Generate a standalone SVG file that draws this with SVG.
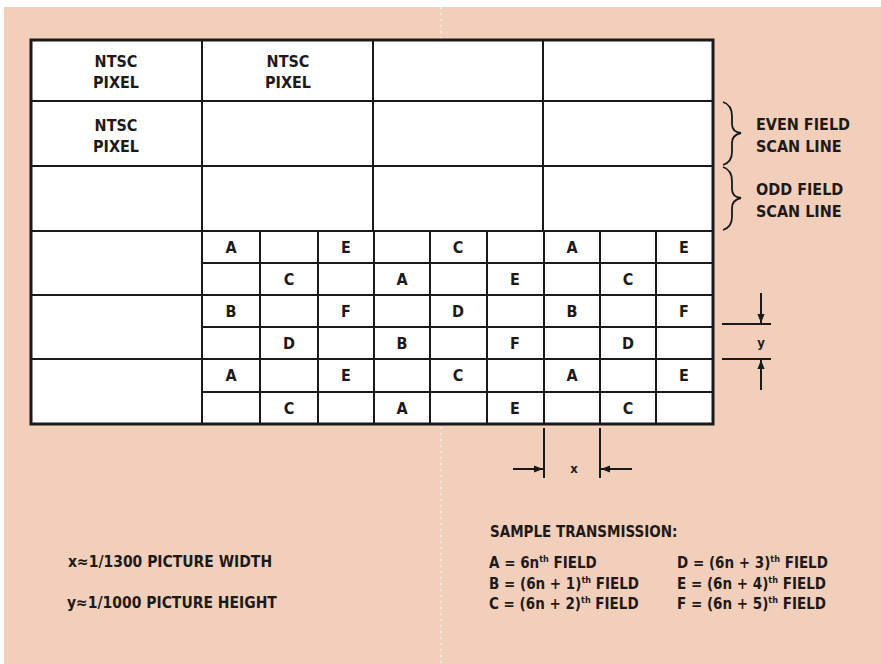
<svg xmlns="http://www.w3.org/2000/svg" width="881" height="664" viewBox="0 0 881 664">
<defs>
<style>
.t{font-family:"DejaVu Sans Condensed","Liberation Sans Narrow","Liberation Sans",sans-serif;font-stretch:condensed;font-weight:bold;fill:#1e1a1a;font-size:15px}
.c{text-anchor:middle}
.g{font-size:16px}
.ln{stroke:#1a1a1a;stroke-width:2;fill:none}
.br{stroke:#1a1a1a;stroke-width:1.8;fill:none}
.sup{font-size:9px}
</style>
<marker id="ah" viewBox="0 0 10 10" refX="10" refY="5" markerWidth="11" markerHeight="9" markerUnits="userSpaceOnUse" orient="auto"><path d="M0,1 L10,5 L0,9 Z" fill="#1a1a1a"/></marker>
</defs>
<rect width="881" height="664" fill="#ffffff"/>
<rect x="4" y="7" width="877" height="657" fill="#f2cfbb"/>
<line x1="441" y1="7" x2="441" y2="664" stroke="#fbeee6" stroke-width="1.5" stroke-dasharray="2 4"/>

<g id="grid">
<rect x="31" y="40" width="682" height="384" fill="#ffffff" stroke="#1a1a1a" stroke-width="3"/>
<path class="ln" d="M31,101H713 M31,166H713 M31,231H713 M31,295H713 M31,359H713 M202,263H713 M202,327H713 M202,392H713 M202,40V424 M373,40V231 M543,40V231 M260,231V424 M318,231V424 M374,231V424 M430,231V424 M487,231V424 M544,231V424 M600,231V424 M656,231V424"/>
</g>

<g id="ntsc-labels">
<text class="t g c" x="116" y="67">NTSC</text><text class="t g c" x="116" y="88">PIXEL</text>
<text class="t g c" x="288" y="67">NTSC</text><text class="t g c" x="288" y="88">PIXEL</text>
<text class="t g c" x="116" y="131">NTSC</text><text class="t g c" x="116" y="152">PIXEL</text>
</g>

<g id="samples">
<text class="t g c" x="231" y="253">A</text><text class="t g c" x="346" y="253">E</text><text class="t g c" x="458" y="253">C</text><text class="t g c" x="572" y="253">A</text><text class="t g c" x="684" y="253">E</text>
<text class="t g c" x="289" y="285">C</text><text class="t g c" x="402" y="285">A</text><text class="t g c" x="515" y="285">E</text><text class="t g c" x="628" y="285">C</text>
<text class="t g c" x="231" y="317">B</text><text class="t g c" x="346" y="317">F</text><text class="t g c" x="458" y="317">D</text><text class="t g c" x="572" y="317">B</text><text class="t g c" x="684" y="317">F</text>
<text class="t g c" x="289" y="349">D</text><text class="t g c" x="402" y="349">B</text><text class="t g c" x="515" y="349">F</text><text class="t g c" x="628" y="349">D</text>
<text class="t g c" x="231" y="381">A</text><text class="t g c" x="346" y="381">E</text><text class="t g c" x="458" y="381">C</text><text class="t g c" x="572" y="381">A</text><text class="t g c" x="684" y="381">E</text>
<text class="t g c" x="289" y="414">C</text><text class="t g c" x="402" y="414">A</text><text class="t g c" x="515" y="414">E</text><text class="t g c" x="628" y="414">C</text>
</g>

<g id="even-field">
<path class="br" d="M723,102 Q732,105 732,116 L732,124 Q732,132 741,133 Q732,135 732,143 L732,152 Q732,162 723,165"/>
<text class="t g" x="756" y="130">EVEN FIELD</text><text class="t g" x="756" y="152">SCAN LINE</text>
</g>
<g id="odd-field">
<path class="br" d="M723,167 Q732,170 732,181 L732,189 Q732,197 741,198 Q732,200 732,208 L732,217 Q732,227 723,230"/>
<text class="t g" x="756" y="195">ODD FIELD</text><text class="t g" x="756" y="217">SCAN LINE</text>
</g>

<g id="connectors">
<path class="ln" d="M722,324H771 M722,359H771 M544,428V478 M600,428V478"/>
<line x1="761" y1="293" x2="761" y2="323" stroke="#1a1a1a" stroke-width="2" marker-end="url(#ah)"/>
<line x1="761" y1="390" x2="761" y2="360" stroke="#1a1a1a" stroke-width="2" marker-end="url(#ah)"/>
<line x1="513" y1="469" x2="543" y2="469" stroke="#1a1a1a" stroke-width="2" marker-end="url(#ah)"/>
<line x1="632" y1="469" x2="601" y2="469" stroke="#1a1a1a" stroke-width="2" marker-end="url(#ah)"/>
</g>
<g id="dim-labels">
<text class="t c" x="761" y="347" style="font-size:13px">y</text>
<text class="t c" x="574" y="473" style="font-size:13px">x</text>
</g>

<g id="scale-notes">
<text class="t" x="68" y="567" style="font-size:15.5px">x≈1/1300 PICTURE WIDTH</text>
<text class="t" x="67" y="608" style="font-size:15.5px">y≈1/1000 PICTURE HEIGHT</text>
</g>

<g id="legend">
<text class="t" x="490" y="537">SAMPLE TRANSMISSION:</text>
<text class="t" x="489" y="568">A = 6n<tspan class="sup" dy="-6">th</tspan><tspan dy="6"> FIELD</tspan></text>
<text class="t" x="489" y="589">B = (6n + 1)<tspan class="sup" dy="-6">th</tspan><tspan dy="6"> FIELD</tspan></text>
<text class="t" x="489" y="609">C = (6n + 2)<tspan class="sup" dy="-6">th</tspan><tspan dy="6"> FIELD</tspan></text>
<text class="t" x="677" y="568">D = (6n + 3)<tspan class="sup" dy="-6">th</tspan><tspan dy="6"> FIELD</tspan></text>
<text class="t" x="677" y="589">E = (6n + 4)<tspan class="sup" dy="-6">th</tspan><tspan dy="6"> FIELD</tspan></text>
<text class="t" x="677" y="609">F = (6n + 5)<tspan class="sup" dy="-6">th</tspan><tspan dy="6"> FIELD</tspan></text>
</g>
</svg>
